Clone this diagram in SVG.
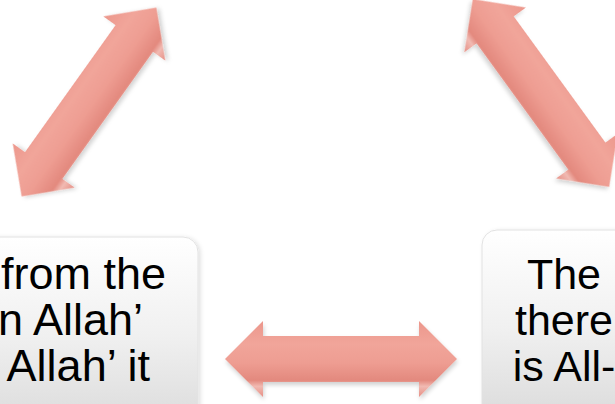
<svg xmlns="http://www.w3.org/2000/svg" width="615" height="404" viewBox="0 0 615 404">
<defs>
<linearGradient id="boxg" x1="0" y1="0" x2="0" y2="1">
<stop offset="0" stop-color="#ffffff"/>
<stop offset="0.45" stop-color="#f0f0f0"/>
<stop offset="1" stop-color="#d4d4d4"/>
</linearGradient>
<linearGradient id="arrg" gradientUnits="userSpaceOnUse" x1="0" y1="-38" x2="0" y2="38">
<stop offset="0" stop-color="#ec978c"/>
<stop offset="0.3" stop-color="#f1a59a"/>
<stop offset="0.55" stop-color="#ee9d92"/>
<stop offset="0.78" stop-color="#e3897e"/>
<stop offset="0.86" stop-color="#f1bab2"/>
<stop offset="1" stop-color="#e68f85"/>
</linearGradient>
<filter id="sh" x="-20%" y="-20%" width="140%" height="140%">
<feDropShadow dx="1" dy="3" stdDeviation="2" flood-color="#000" flood-opacity="0.18"/>
</filter>
<filter id="bsh" x="-10%" y="-10%" width="120%" height="120%">
<feDropShadow dx="2" dy="1" stdDeviation="2" flood-color="#000" flood-opacity="0.12"/>
</filter>
<path id="darr" d="M-116,0 L-78,-38 L-78,-23 L78,-23 L78,-38 L116,0 L78,38 L78,23 L-78,23 L-78,38 Z"/>
</defs>
<style>
.box{fill:url(#boxg);stroke:#e2e2e2;stroke-width:1;filter:url(#bsh)}
.t{font-family:"Liberation Sans",Arial,sans-serif;font-size:43px;fill:#000}
.l{font-size:45px;text-anchor:end}
.m{text-anchor:middle}
.arr{fill:url(#arrg);filter:url(#sh)}
</style>
<rect width="615" height="404" fill="#ffffff"/>
<g id="connectors">
<use href="#darr" class="arr" transform="translate(89,102) rotate(-54.5)"/>
<use href="#darr" class="arr" transform="translate(541,93) rotate(54)"/>
<use href="#darr" class="arr" transform="translate(341,359)"/>
</g>
<g id="node-left">
<rect class="box" x="-60" y="237" width="258" height="220" rx="15"/>
<text class="t l" x="166" y="289">from the</text>
<text class="t l" x="143" y="335">n Allah’</text>
<text class="t l" x="150" y="381">Allah’ it</text>
</g>
<g id="node-right">
<rect class="box" x="482" y="230" width="260" height="220" rx="15"/>
<text class="t m" x="564" y="289">The</text>
<text class="t m" x="564" y="335">there</text>
<text class="t m" x="564" y="381">is All-</text>
</g>
</svg>
